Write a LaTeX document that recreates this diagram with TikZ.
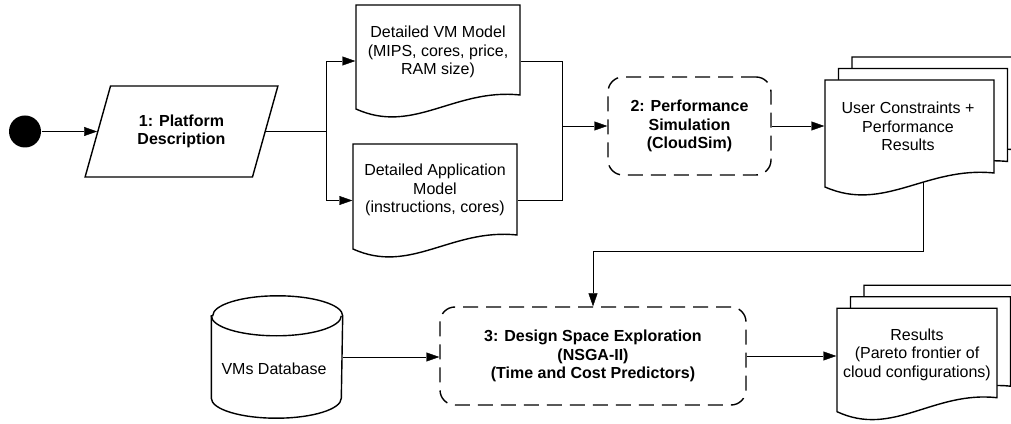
\documentclass[tikz,border=0pt]{standalone}
\usepackage{fontspec}
\setmainfont{Liberation Sans}
\usetikzlibrary{shapes.geometric, arrows.meta, fit, backgrounds}

% one page of a document: x0, top, x1, lowest point of the wave
\newcommand{\docpage}[4]{%
  \draw[fill=white] ({#1},{#2}) -- ({#3},{#2}) -- ({#3},{(#4)+22})
    .. controls ({(#1)+0.6*((#3)-(#1))},{(#4)+29}) and ({(#1)+0.35*((#3)-(#1))},{(#4)-18})
    .. ({#1},{(#4)+8}) -- cycle;}
\newcommand{\doc}[5]{%
  \docpage{#2}{#3}{#4}{#5}
  \node[fit={(#2,#5) (#4,#3)}, inner sep=0pt] (#1) {};}
\newcommand{\multidoc}[5]{%
  \foreach \k in {2,1,0} {\docpage{#2+\k*13.5}{#3+\k*11.5}{#4+\k*13.5}{#5+\k*11.5}}
  \node[fit={(#2,#5) ({#4+27},{#3+23})}, inner sep=0pt] (#1) {};}

\begin{document}
\begin{tikzpicture}[x=1pt, y=1pt, line width=1.4pt,
    >={Triangle[length=13pt, width=9pt]},
    txt/.style={font=\fontsize{16}{18.4}\selectfont, align=center},
    process/.style={draw, fill=white, dash pattern=on 15pt off 8pt, rounded corners=15pt,
      font=\bfseries\fontsize{16}{18.4}\selectfont, align=center, minimum height=98pt}]
    \useasboundingbox (0,0) rectangle (1011,423);

    \node[circle, fill=black, minimum size=32pt, inner sep=0pt] (start) at (25,291.5) {};
    \node[trapezium, trapezium left angle=67, trapezium right angle=113, trapezium stretches,
      draw, minimum width=193pt, minimum height=91pt, txt, font=\bfseries\fontsize{16}{18.4}\selectfont]
      (plat) at (181.5,291.5) {1: Platform\\Description};

    \doc{vm}{356}{418}{520}{306}
    \doc{app}{353}{279}{517}{166}
    \node[txt] (vm-txt) at (438,371) {Detailed VM Model\\(MIPS, cores, price,\\RAM size)};
    \node[txt] (app-txt) at (435,233) {Detailed Application\\Model\\(instructions, cores)};

    \node[process, minimum width=163pt] (perf) at (689.5,297) {2: Performance\\Simulation\\(CloudSim)};

    \multidoc{uc}{825}{343}{994}{228}
    \node[txt] (uc-txt) at (908,296.5) {User Constraints +\\Performance\\Results};

    % database drum
    \node[minimum width=130pt, minimum height=121pt, inner sep=0pt] (vmdb) at (277,66) {};
    \draw[fill=white] ([yshift=-20pt]vmdb.north west) -- ([yshift=20pt]vmdb.south west)
      arc[start angle=180, end angle=360, x radius=65, y radius=20]
      -- ([yshift=-20pt]vmdb.north east)
      arc[start angle=0, end angle=180, x radius=65, y radius=20] -- cycle;
    \draw ([yshift=-20pt]vmdb.north west) arc[start angle=180, end angle=360, x radius=65, y radius=20];
    \node[txt] (vmdb-txt) at (274,54.7) {VMs Database};

    \node[process, minimum width=306pt] (dse) at (593,67) {3: Design Space Exploration\\(NSGA-II)\\(Time and Cost Predictors)};

    \multidoc{res}{837}{114.7}{997}{3.3}
    \node[txt] (res-txt) at (917,68.5) {Results\\(Pareto frontier of\\cloud configurations)};

    \coordinate (fork) at ([xshift=60pt]plat.east);
    \coordinate (join) at ([xshift=-45pt]perf.west);

    \begin{scope}[on background layer]
        \draw[->] (start) -- (start -| plat.west);
        \draw[->] (plat.east) -- (fork) |- (vm.west);
        \draw[->] (fork) |- (app.west);
        \draw (vm.east) -| (join);
        \draw (app.east) -| (join);
        \draw[->] (join) -- (perf.west);
        \draw[->] (perf.east) -- (uc.west);
        \draw[->] (uc.center) -- ++(0,-125) -| (dse.north);
        \draw[->] (vmdb.east) -- (vmdb.east -| dse.west);
        \draw[->] (dse.east) -- (dse.east -| res.west);
    \end{scope}
\end{tikzpicture}
\end{document}
